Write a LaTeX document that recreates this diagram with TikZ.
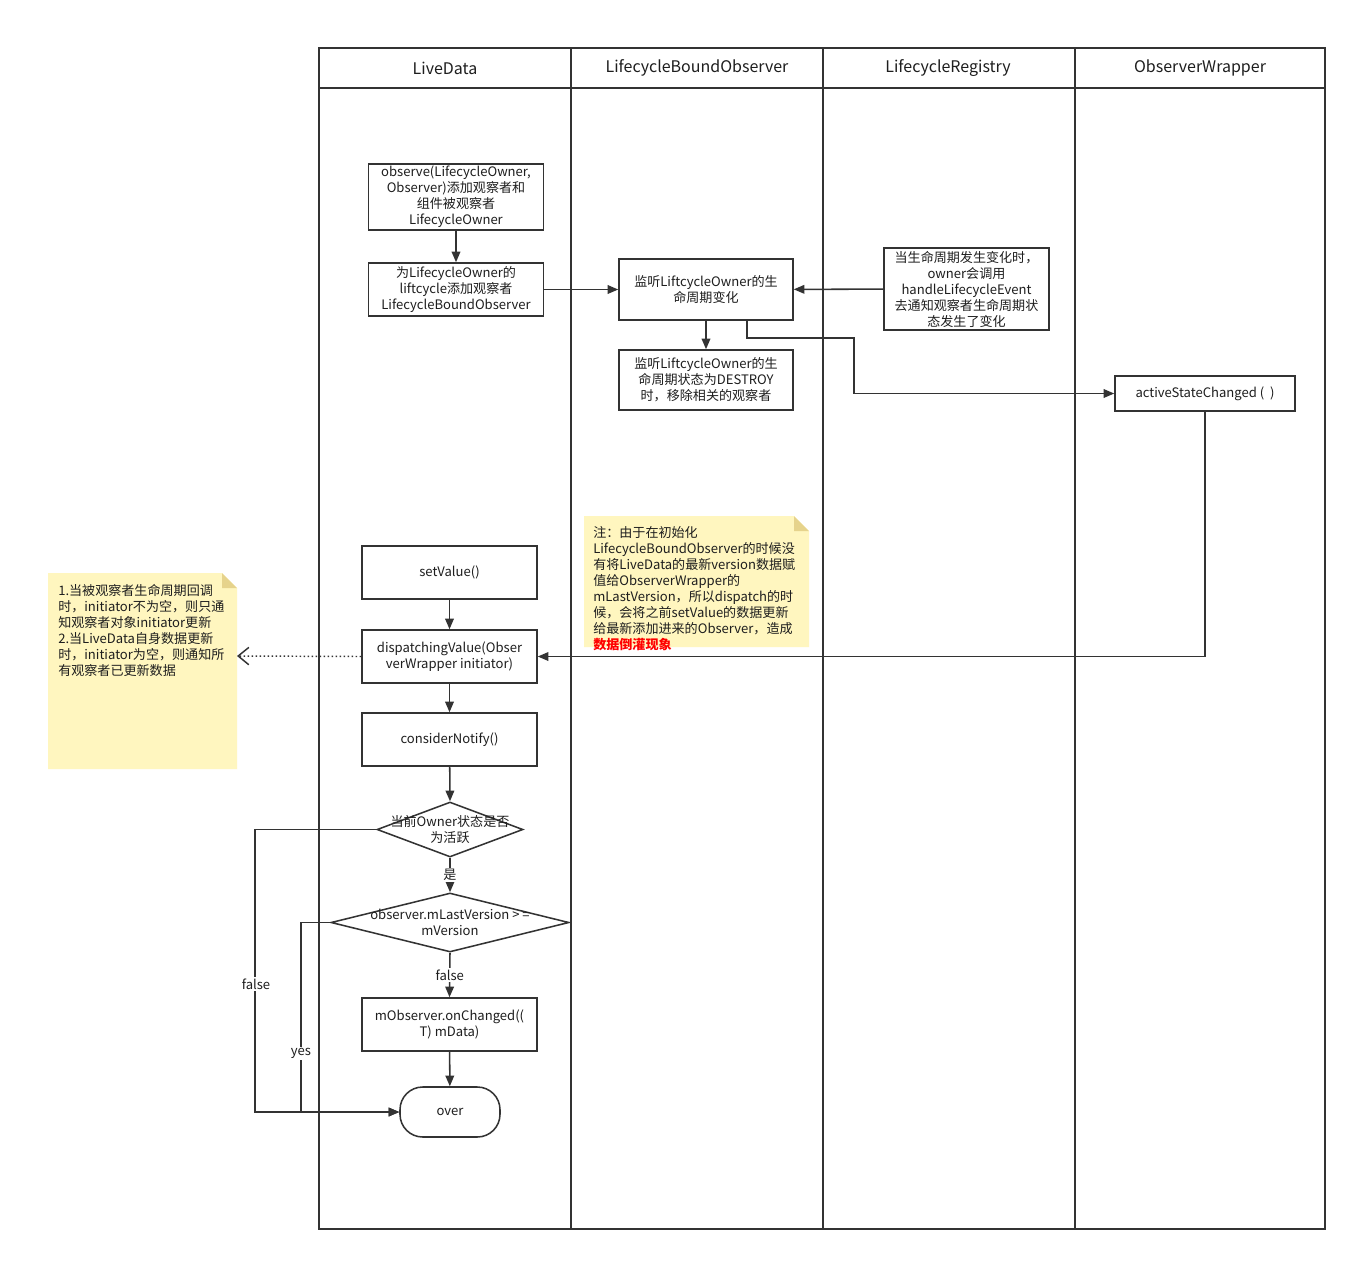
\documentclass[tikz,border=0pt]{standalone}
\usepackage{fontspec}
\setmainfont{Noto Sans CJK SC}
\usetikzlibrary{shapes.geometric,arrows.meta,calc}
\definecolor{ln}{HTML}{333333}
\definecolor{txt}{HTML}{1E1E1E}
\definecolor{notefill}{HTML}{FFF6BF}
\definecolor{notefold}{HTML}{E6D38C}
\newcommand\fsz{\fontsize{9.8}{12}\selectfont}
\begin{document}
\begin{tikzpicture}[x=0.75pt,y=-0.75pt,
  box/.style={draw=ln, line width=1.15pt, align=center, inner sep=0pt, font=\fsz, text=txt},
  lane/.style={draw=ln, line width=1.4pt},
  arr/.style={draw=ln, line width=1.15pt, -{Triangle[length=8pt,width=6.5pt]}},
  lbl/.style={fill=white, inner sep=1pt, font=\fsz, text=txt},
  hdr/.style={font=\fontsize{12}{14}\selectfont, text=txt},
  notetxt/.style={anchor=north west, align=left, inner sep=0pt, font=\fsz, text=txt}]
\useasboundingbox[fill=white] (0,0) rectangle (1357,1261);
% pool
\draw[lane] (319,48) rectangle (1325,1229);
\draw[lane] (319,88) -- (1325,88);
\draw[lane] (571,48) -- (571,1229);
\draw[lane] (823,48) -- (823,1229);
\draw[lane] (1075,48) -- (1075,1229);
\node[hdr] (h1) at (445,68) {LiveData};
\node[hdr] (h2) at (697,68) {LifecycleBoundObserver};
\node[hdr] (h3) at (948,68) {LifecycleRegistry};
\node[hdr] (h4) at (1200,68) {ObserverWrapper};
% notes
\fill[notefill] (48,573) -- (222,573) -- (237,588) -- (237,769) -- (48,769) -- cycle;
\fill[notefold] (222,573) -- (222,588) -- (237,588) -- cycle;
\node[notetxt] (n1) at (58,584) {1.当被观察者生命周期回调\\时，initiator不为空，则只通\\知观察者对象initiator更新\\2.当LiveData自身数据更新\\时，initiator为空，则通知所\\有观察者已更新数据};
\coordinate (n1e) at (237,656);
\fill[notefill] (584,516) -- (794,516) -- (809,531) -- (809,647) -- (584,647) -- cycle;
\fill[notefold] (794,516) -- (794,531) -- (809,531) -- cycle;
\node[notetxt] (n2) at (593,526) {注：由于在初始化\\LifecycleBoundObserver的时候没\\有将LiveData的最新version数据赋\\值给ObserverWrapper的\\mLastVersion，所以dispatch的时\\候，会将之前setValue的数据更新\\给最新添加进来的Observer，造成\\{\color{red}\bfseries 数据倒灌现象}};
% boxes
\node[box, minimum width=131.25pt, minimum height=49.5pt] (obs) at (456,197) {observe(LifecycleOwner,\\Observer)添加观察者和\\组件被观察者\\LifecycleOwner};
\node[box, minimum width=131.25pt, minimum height=39.75pt] (add) at (456,289.5) {为LifecycleOwner的\\liftcycle添加观察者\\LifecycleBoundObserver};
\node[box, minimum width=130.5pt, minimum height=45.75pt] (l1) at (706,289.5) {监听LiftcycleOwner的生\\命周期变化};
\node[box, minimum width=130.5pt, minimum height=45pt] (l2) at (706,380) {监听LiftcycleOwner的生\\命周期状态为DESTROY\\时，移除相关的观察者};
\node[box, minimum width=123.75pt, minimum height=61.5pt] (reg) at (966.5,289) {当生命周期发生变化时，\\owner会调用\\handleLifecycleEvent\\去通知观察者生命周期状\\态发生了变化};
\node[box, minimum width=135pt, minimum height=26.25pt] (act) at (1205,393.5) {activeStateChanged (\ \ )};
\node[box, minimum width=131.25pt, minimum height=39.75pt] (sv) at (449.5,572.5) {setValue()};
\node[box, minimum width=131.25pt, minimum height=39.75pt] (dv) at (449.5,656.5) {dispatchingValue(Obser\\verWrapper initiator)};
\node[box, minimum width=131.25pt, minimum height=39.75pt] (cn) at (449.5,739.5) {considerNotify()};
\node[draw=ln, line width=1.15pt, diamond, inner sep=0pt, minimum width=109.5pt, minimum height=41.25pt] (d1) at (450,829.5) {};
\node[box, draw=none] (d1t) at (450,829.5) {当前Owner状态是否\\为活跃};
\node[draw=ln, line width=1.15pt, diamond, inner sep=0pt, minimum width=178.5pt, minimum height=44.25pt] (d2) at (450,922.5) {};
\node[box, draw=none] (d2t) at (450,922.5) {observer.mLastVersion > =\\mVersion};
\node[box, minimum width=131.25pt, minimum height=39.75pt] (mo) at (449.5,1024.5) {mObserver.onChanged((\\T) mData)};
\node[box, rounded corners=17pt, minimum width=75pt, minimum height=37.5pt] (ov) at (450,1112) {over};
\coordinate (l1b) at (747,320);
\coordinate (fx) at (255,0);
\coordinate (yx) at (301,0);
% connectors
\draw[arr] (obs) -- (add);
\draw[arr] (add) -- (l1);
\draw[arr] (reg) -- (l1);
\draw[arr] (l1) -- (l2);
\draw[arr] (l1b) |- (854,338) |- (act.west);
\draw[arr] (act.south) |- (dv.east);
\draw[draw=ln, line width=1.1pt, dash pattern=on 1.3pt off 1.7pt, -{Straight Barb[length=8pt,width=13pt,line width=1.1pt]}] (dv.west) -- (n1e);
\draw[arr] (sv) -- (dv);
\draw[arr] (dv) -- (cn);
\draw[arr] (cn) -- (d1.north);
\draw[arr] (d1.south) -- (d2.north) node[lbl, pos=0.5] (lb1) {是};
\draw[arr] (d2.south) -- (mo.north) node[lbl, pos=0.5] (lb2) {false};
\draw[arr] (mo) -- (ov);
\draw[arr] (d1.west) -| (fx |- ov.west) -- (ov.west);
\draw[arr] (d2.west) -| (yx |- ov.west) -- (ov.west);
\node[lbl] (lb3) at (256,984) {false};
\node[lbl] (lb4) at (301,1053) {yes};
\end{tikzpicture}
\end{document}
